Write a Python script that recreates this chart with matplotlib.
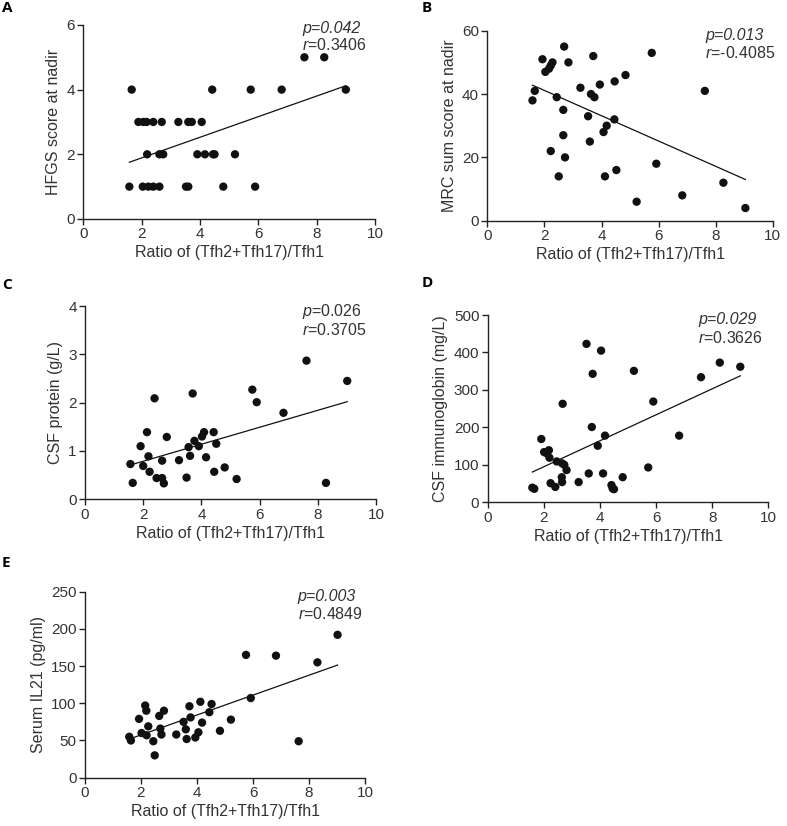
import numpy as np
import matplotlib
matplotlib.use("Agg")
import matplotlib.pyplot as plt

plt.rcParams['font.family'] = ['Liberation Sans', 'DejaVu Sans']
plt.rcParams['mathtext.fontset'] = 'custom'
plt.rcParams['mathtext.it'] = 'Liberation Sans:italic'
plt.rcParams['mathtext.rm'] = 'Liberation Sans'

# === Dados ===
XLABEL = "Ratio of (Tfh2+Tfh17)/Tfh1"

# A: HFGS score
x_a = [1.66, 4.42, 5.74, 6.80, 9.00,
       7.58, 8.26,
       1.89, 2.06, 2.17, 2.40, 2.69, 3.26, 3.60, 3.72, 4.06,
       2.19, 2.61, 2.74, 3.91, 4.17, 4.45, 4.50, 5.20,
       1.58, 2.04, 2.23, 2.40, 2.61, 3.52, 3.60, 4.80, 5.89]
y_a = [4, 4, 4, 4, 4,
       5, 5,
       3, 3, 3, 3, 3, 3, 3, 3, 3,
       2, 2, 2, 2, 2, 2, 2, 2,
       1, 1, 1, 1, 1, 1, 1, 1, 1]

# B: MRC sum score
x_b = [1.58, 1.66, 1.93, 2.03, 2.16, 2.22, 2.28, 2.22, 2.43, 2.50, 2.69, 2.66,
       2.66, 2.72, 2.84, 3.26, 3.53, 3.59, 3.63, 3.71, 3.75, 3.94, 4.07, 4.18,
       4.12, 4.45, 4.46, 4.52, 4.84, 5.23, 5.76, 5.92, 6.83, 7.62, 8.27, 9.04]
y_b = [38, 41, 51, 47, 48, 49, 50, 22, 39, 14, 55, 35,
       27, 20, 50, 42, 33, 25, 40, 52, 39, 43, 28, 30,
       14, 32, 44, 16, 46, 6, 53, 18, 8, 41, 12, 4]

# C: CSF protein
x_c = [1.56, 1.64, 1.91, 2.00, 2.13, 2.18, 2.22, 2.39, 2.46, 2.65, 2.65, 2.71,
       2.81, 3.23, 3.49, 3.56, 3.61, 3.70, 3.76, 3.91, 4.02, 4.09, 4.16, 4.42,
       4.44, 4.51, 4.80, 5.21, 5.75, 5.90, 6.82, 7.61, 8.28, 9.01]
y_c = [0.73, 0.34, 1.10, 0.69, 1.39, 0.89, 0.57, 2.09, 0.44, 0.44, 0.80, 0.33,
       1.29, 0.81, 0.45, 1.08, 0.90, 2.19, 1.21, 1.10, 1.30, 1.39, 0.87, 1.39,
       0.57, 1.15, 0.66, 0.42, 2.27, 2.01, 1.79, 2.87, 0.34, 2.45]

# D: CSF immunoglobin
x_d = [1.59, 1.66, 1.91, 2.01, 2.10, 2.18, 2.20, 2.24, 2.41, 2.46, 2.67, 2.65,
       2.64, 2.65, 2.73, 2.81, 3.24, 3.52, 3.60, 3.71, 3.74, 3.92, 4.04, 4.11,
       4.18, 4.41, 4.45, 4.50, 4.81, 5.21, 5.72, 5.90, 6.82, 7.60, 8.27, 9.00]
y_d = [39, 36, 169, 134, 131, 139, 119, 51, 41, 109, 263, 104,
       67, 54, 100, 86, 54, 423, 77, 201, 343, 151, 405, 77,
       178, 46, 37, 35, 67, 351, 93, 269, 178, 334, 373, 362]

# E: Serum IL21
x_e = [1.58, 1.64, 1.93, 2.02, 2.15, 2.19, 2.26, 2.20, 2.44, 2.49, 2.65, 2.69,
       2.73, 2.82, 3.26, 3.52, 3.60, 3.63, 3.73, 3.77, 3.94, 4.05, 4.12, 4.18,
       4.44, 4.52, 4.82, 5.21, 5.75, 5.92, 6.82, 7.63, 8.30, 9.02]
y_e = [55, 50, 79, 60, 97, 90, 69, 57, 49, 30, 83, 66,
       58, 90, 58, 75, 65, 52, 96, 81, 54, 61, 102, 74,
       88, 99, 63, 78, 165, 107, 164, 49, 155, 192]

panels = [
    # letra, x, y, ylabel, ymax, ystep, rect, texto p, p italico inteiro, texto r, posicao texto
    ("A", x_a, y_a, "HFGS score at nadir", 6, 2, [0.1058, 0.7349, 0.3707, 0.2349],
     "p=0.042", True, "$r$=0.3406", (7.5, 5.9, 5.38)),
    ("B", x_b, y_b, "MRC sum score at nadir", 60, 20, [0.6193, 0.7328, 0.3626, 0.2300],
     "p=0.013", True, "$r$=-0.4085", (7.63, 58.6, 53.0)),
    ("C", x_c, y_c, "CSF protein (g/L)", 4, 1, [0.1080, 0.3955, 0.3698, 0.2340],
     "$p$=0.026", False, "$r$=0.3705", (7.46, 3.88, 3.5)),
    ("D", x_d, y_d, "CSF immunoglobin (mg/L)", 500, 100, [0.6197, 0.3919, 0.3566, 0.2267],
     "p=0.029", True, "$r$=0.3626", (7.5, 487, 439)),
    ("E", x_e, y_e, "Serum IL21 (pg/ml)", 250, 50, [0.1080, 0.0585, 0.3558, 0.2252],
     "p=0.003", True, "$r$=0.4849", (7.6, 243, 220)),
]

letter_pos = {"A": (7, 8), "B": (427, 8), "C": (7, 285), "D": (427, 283), "E": (6, 563)}

W, H = 787, 826
fig = plt.figure(figsize=(W / 100, H / 100), dpi=100)
txt_color = "#333333"

for letra, x, y, ylabel, ymax, ystep, rect, ptxt, p_it, rtxt, tpos in panels:
    ax = fig.add_axes(rect)
    x = np.array(x)
    y = np.array(y)
    ax.scatter(x, y, s=36, color="#111111", edgecolors="none", zorder=3, clip_on=False)

    # regressao linear
    slope, inter = np.polyfit(x, y, 1)
    xs = np.array([x.min(), x.max()])
    ax.plot(xs, slope * xs + inter, color="#111111", lw=0.9)

    ax.set_xlim(0, 10)
    ax.set_ylim(0, ymax)
    ax.set_xticks(np.arange(0, 11, 2))
    ax.set_yticks(np.arange(0, ymax + ystep / 2, ystep))
    ax.spines["top"].set_visible(False)
    ax.spines["right"].set_visible(False)
    for s in ["left", "bottom"]:
        ax.spines[s].set_linewidth(1.0)
        ax.spines[s].set_color("#222222")
    ax.tick_params(direction="out", length=4, width=1.0, labelsize=11,
                   labelcolor=txt_color, color="#222222", pad=2)
    ax.set_xlabel(XLABEL, fontsize=11.5, color=txt_color, labelpad=3)
    ax.set_ylabel(ylabel, fontsize=11.5, color=txt_color, labelpad=4)

    tx, ty1, ty2 = tpos
    ax.text(tx, ty1, ptxt, fontsize=11.5, color=txt_color, va="center", ha="left",
            fontstyle="italic" if p_it else "normal")
    ax.text(tx, ty2, rtxt, fontsize=11.5, color=txt_color, va="center", ha="left")

    lx, ly = letter_pos[letra]
    fig.text(lx / W, 1 - ly / H, letra, fontsize=11, fontweight="bold",
             family="Open Sans", ha="center", va="center")

fig.savefig("out.png", dpi=100)
